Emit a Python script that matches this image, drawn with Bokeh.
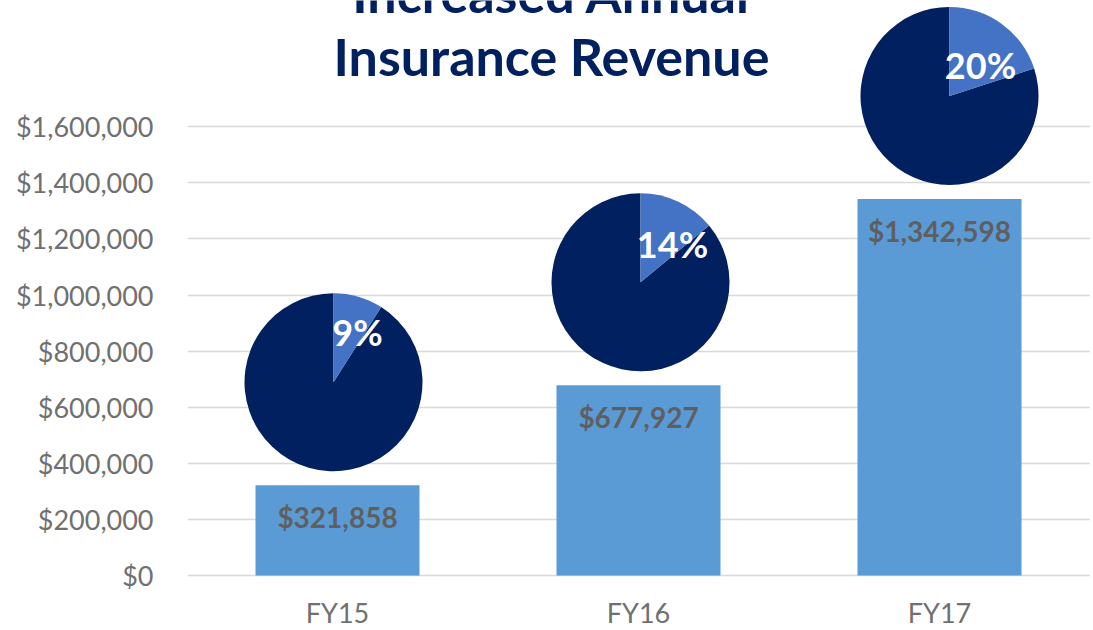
import math
from bokeh.plotting import figure
from bokeh.models import FixedTicker, NumeralTickFormatter, Range1d, Label, ColumnDataSource
from bokeh.core.properties import value
from bokeh.embed import file_html
from bokeh.resources import INLINE

# ---- data ----
categories = ["FY15", "FY16", "FY17"]
revenue = [321858, 677927, 1342598]
share_pct = [9, 14, 20]
y_ticks = [0, 200000, 400000, 600000, 800000, 1000000, 1200000, 1400000, 1600000]
title_lines = ["Increased Annual", "Insurance Revenue"]

# ---- layout constants ----
W, H = 1090, 628
LEFT = 187                   # frame left (px)
ZERO_Y = 575                 # screen y of $0
X0 = 337                     # screen x of first category
PX_X = 301.0                 # px per category
PX_Y = 56.1 / 200000.0       # px per dollar
x_start = -(X0 - LEFT) / PX_X
x_end = x_start + (W - LEFT) / PX_X
y_end = ZERO_Y / PX_Y
y_start = -(H - ZERO_Y) / PX_Y

NAVY = "#002060"
LIGHT = "#4472C4"
BAR = "#5B9BD5"
LBL = "#5f5f5f"
TICK = "#707070"

xs = list(range(len(categories)))

p = figure(width=W, height=H, output_backend="svg", toolbar_location=None,
           x_range=Range1d(x_start, x_end), y_range=Range1d(y_start, y_end),
           min_border_left=LEFT, min_border_right=0, min_border_top=0,
           min_border_bottom=0)
p.outline_line_color = None
p.background_fill_color = "white"
p.border_fill_color = "white"

# bars
bars = ColumnDataSource(dict(x=xs, top=revenue, cat=categories,
                             label=[f"${v:,}" for v in revenue]))
p.vbar(x="x", top="top", bottom=0, width=164 / PX_X, source=bars,
       fill_color=BAR, line_color=None)
p.text(x="x", y="top", text="label", source=bars, y_offset=32,
       text_align="center", text_baseline="middle",
       text_font=value("Lato"), text_font_style="bold",
       text_font_size="28px", text_color=LBL)

# category labels (x axis)
p.text(x="x", y=0, text="cat", source=bars, y_offset=37,
       text_align="center", text_baseline="middle",
       text_font=value("Lato"), text_font_size="27px", text_color=TICK)

# pies
pie_dx_px = [-4, 2, 10]
pie_lift = 103 / PX_Y
pie_x = [x + d / PX_X for x, d in zip(xs, pie_dx_px)]
pie_y = [v + pie_lift for v in revenue]
start_light = [math.pi / 2 - 2 * math.pi * s / 100 for s in share_pct]
end_light = [math.pi / 2] * len(share_pct)
pies = ColumnDataSource(dict(x=pie_x, y=pie_y, s=start_light, e=end_light,
                             e2=[a + 2 * math.pi for a in start_light]))
p.wedge(x="x", y="y", radius=89, radius_units="screen",
        start_angle="e", end_angle="e2", direction="anticlock",
        source=pies, fill_color=NAVY, line_color=None)
p.wedge(x="x", y="y", radius=89, radius_units="screen",
        start_angle="s", end_angle="e", direction="anticlock",
        source=pies, fill_color=LIGHT, line_color=None)

lbl_dx = [24, 32, 31]
lbl_dy = [-50, -38, -31]
for i in range(len(categories)):
    p.text(x=[pie_x[i]], y=[pie_y[i]], text=[f"{share_pct[i]}%"],
           x_offset=lbl_dx[i], y_offset=lbl_dy[i],
           text_align="center", text_baseline="middle",
           text_font=value("Lato"), text_font_style="bold",
           text_font_size="36px", text_color="white")

# title (vertical centres of the two lines)
tx = (551 - X0) / PX_X
for line, mid in zip(title_lines, [-7.5, 55.5]):
    p.add_layout(Label(x=tx, y=(ZERO_Y - mid) / PX_Y, text=line,
                       text_align="center", text_baseline="middle",
                       text_font="Lato", text_font_style="bold",
                       text_font_size="52px", text_color=NAVY))

# axes
p.xaxis.visible = False

p.yaxis.ticker = FixedTicker(ticks=y_ticks)
p.yaxis.formatter = NumeralTickFormatter(format="$0,0")
p.yaxis.axis_line_color = None
p.yaxis.major_tick_line_color = None
p.yaxis.minor_tick_line_color = None
p.yaxis.major_label_standoff = 28
p.yaxis.major_label_text_font = "Lato"
p.yaxis.major_label_text_font_size = "27px"
p.yaxis.major_label_text_color = TICK

p.xgrid.grid_line_color = None
p.ygrid.ticker = FixedTicker(ticks=y_ticks)
p.ygrid.grid_line_color = "#d9d9d9"
p.ygrid.grid_line_width = 1.5

open("out.html", "w").write(file_html(p, INLINE))
